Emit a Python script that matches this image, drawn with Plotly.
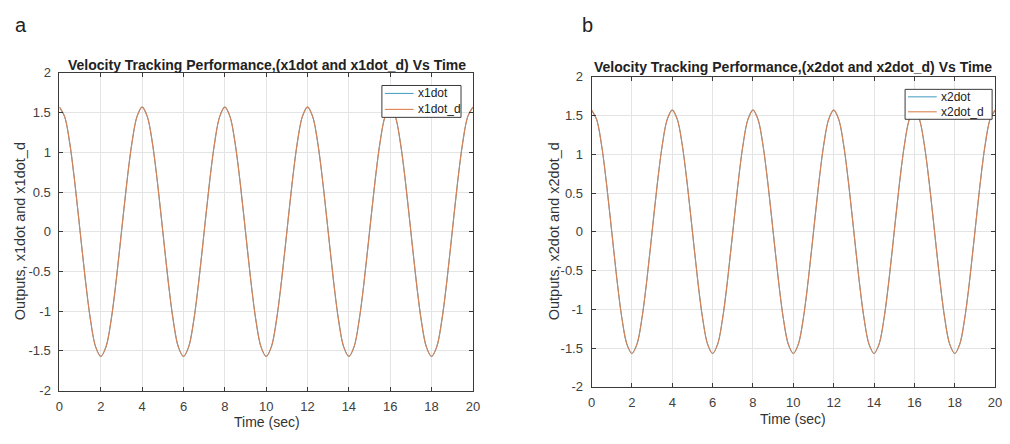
import plotly.graph_objects as go

# ---- data ----
time_sec = [i * 0.25 for i in range(81)]
x1dot = [1.57, 1.45, 1.11, 0.60, 0.00, -0.60, -1.11, -1.45, -1.57, -1.45, -1.11, -0.60, 0.00, 0.60, 1.11, 1.45,
         1.57, 1.45, 1.11, 0.60, 0.00, -0.60, -1.11, -1.45, -1.57, -1.45, -1.11, -0.60, 0.00, 0.60, 1.11, 1.45,
         1.57, 1.45, 1.11, 0.60, 0.00, -0.60, -1.11, -1.45, -1.57, -1.45, -1.11, -0.60, 0.00, 0.60, 1.11, 1.45,
         1.57, 1.45, 1.11, 0.60, 0.00, -0.60, -1.11, -1.45, -1.57, -1.45, -1.11, -0.60, 0.00, 0.60, 1.11, 1.45,
         1.57, 1.45, 1.11, 0.60, 0.00, -0.60, -1.11, -1.45, -1.57, -1.45, -1.11, -0.60, 0.00, 0.60, 1.11, 1.45,
         1.57]
x1dot_d = [1.57, 1.45, 1.11, 0.60, 0.00, -0.60, -1.11, -1.45, -1.57, -1.45, -1.11, -0.60, 0.00, 0.60, 1.11, 1.45,
           1.57, 1.45, 1.11, 0.60, 0.00, -0.60, -1.11, -1.45, -1.57, -1.45, -1.11, -0.60, 0.00, 0.60, 1.11, 1.45,
           1.57, 1.45, 1.11, 0.60, 0.00, -0.60, -1.11, -1.45, -1.57, -1.45, -1.11, -0.60, 0.00, 0.60, 1.11, 1.45,
           1.57, 1.45, 1.11, 0.60, 0.00, -0.60, -1.11, -1.45, -1.57, -1.45, -1.11, -0.60, 0.00, 0.60, 1.11, 1.45,
           1.57, 1.45, 1.11, 0.60, 0.00, -0.60, -1.11, -1.45, -1.57, -1.45, -1.11, -0.60, 0.00, 0.60, 1.11, 1.45,
           1.57]
x2dot = [1.57, 1.45, 1.11, 0.60, 0.00, -0.60, -1.11, -1.45, -1.57, -1.45, -1.11, -0.60, 0.00, 0.60, 1.11, 1.45,
         1.57, 1.45, 1.11, 0.60, 0.00, -0.60, -1.11, -1.45, -1.57, -1.45, -1.11, -0.60, 0.00, 0.60, 1.11, 1.45,
         1.57, 1.45, 1.11, 0.60, 0.00, -0.60, -1.11, -1.45, -1.57, -1.45, -1.11, -0.60, 0.00, 0.60, 1.11, 1.45,
         1.57, 1.45, 1.11, 0.60, 0.00, -0.60, -1.11, -1.45, -1.57, -1.45, -1.11, -0.60, 0.00, 0.60, 1.11, 1.45,
         1.57, 1.45, 1.11, 0.60, 0.00, -0.60, -1.11, -1.45, -1.57, -1.45, -1.11, -0.60, 0.00, 0.60, 1.11, 1.45,
         1.57]
x2dot_d = [1.57, 1.45, 1.11, 0.60, 0.00, -0.60, -1.11, -1.45, -1.57, -1.45, -1.11, -0.60, 0.00, 0.60, 1.11, 1.45,
           1.57, 1.45, 1.11, 0.60, 0.00, -0.60, -1.11, -1.45, -1.57, -1.45, -1.11, -0.60, 0.00, 0.60, 1.11, 1.45,
           1.57, 1.45, 1.11, 0.60, 0.00, -0.60, -1.11, -1.45, -1.57, -1.45, -1.11, -0.60, 0.00, 0.60, 1.11, 1.45,
           1.57, 1.45, 1.11, 0.60, 0.00, -0.60, -1.11, -1.45, -1.57, -1.45, -1.11, -0.60, 0.00, 0.60, 1.11, 1.45,
           1.57, 1.45, 1.11, 0.60, 0.00, -0.60, -1.11, -1.45, -1.57, -1.45, -1.11, -0.60, 0.00, 0.60, 1.11, 1.45,
           1.57]

x_ticks = [0, 2, 4, 6, 8, 10, 12, 14, 16, 18, 20]
y_ticks = [-2, -1.5, -1, -0.5, 0, 0.5, 1, 1.5, 2]
y_tick_text = ["-2", "-1.5", "-1", "-0.5", "0", "0.5", "1", "1.5", "2"]
legend_left = ["x1dot", "x1dot_d"]
legend_right = ["x2dot", "x2dot_d"]

# the page body keeps its default 8px margin, so the figure is 8px smaller
# and every window-pixel position below is shifted by that offset
OFF = 8
W, H = 1010 - OFF, 444 - OFF
BLUE = "#4fa3c9"
ORANGE = "#dd8050"
FONT = "Liberation Sans, Arial, sans-serif"

fig = go.Figure()
fig.add_trace(go.Scatter(x=time_sec, y=x1dot, name="x1dot", mode="lines", line=dict(color=BLUE, width=1.1, shape="spline"),
                         xaxis="x", yaxis="y"))
fig.add_trace(go.Scatter(x=time_sec, y=x1dot_d, name="x1dot_d", mode="lines", line=dict(color=ORANGE, width=1.1, shape="spline"),
                         xaxis="x", yaxis="y"))
fig.add_trace(go.Scatter(x=time_sec, y=x2dot, name="x2dot", mode="lines", line=dict(color=BLUE, width=1.1, shape="spline"),
                         xaxis="x2", yaxis="y2"))
fig.add_trace(go.Scatter(x=time_sec, y=x2dot_d, name="x2dot_d", mode="lines", line=dict(color=ORANGE, width=1.1, shape="spline"),
                         xaxis="x2", yaxis="y2"))

def px_x(p):
    return (p - OFF) / W

def px_y(p):
    return 1 - (p - OFF) / H

axis_common = dict(showline=True, linecolor="#3a3a3a", linewidth=1, mirror="ticks", ticks="inside",
                   ticklen=4, tickcolor="#3a3a3a", showgrid=True, gridcolor="#e4e4e4", gridwidth=1,
                   zeroline=False, tickfont=dict(family=FONT, size=13, color="#404040"))

fig.update_layout(
    width=W, height=H,
    margin=dict(l=0, r=0, t=0, b=0),
    paper_bgcolor="white", plot_bgcolor="white",
    showlegend=False,
    xaxis=dict(domain=[px_x(56), px_x(474)], range=[0, 20], tickvals=x_ticks, anchor="y",
               ticklabelstandoff=4, **axis_common),
    yaxis=dict(domain=[px_y(397), px_y(68)], range=[-2, 2], tickvals=y_ticks, ticktext=y_tick_text, anchor="x",
               ticklabelstandoff=5, **axis_common),
    xaxis2=dict(domain=[px_x(594), px_x(1002)], range=[0, 20], tickvals=x_ticks, anchor="y2",
                ticklabelstandoff=4, **axis_common),
    yaxis2=dict(domain=[px_y(393), px_y(72)], range=[-2, 2], tickvals=y_ticks, ticktext=y_tick_text, anchor="x2",
                ticklabelstandoff=5, **axis_common),
)

ann = [
    dict(text="a", x=px_x(17), y=px_y(18), font=dict(size=20, color="#222")),
    dict(text="b", x=px_x(590), y=px_y(18), font=dict(size=20, color="#222")),
    dict(text="<b>Velocity Tracking Performance,(x1dot and x1dot_d) Vs Time</b>", x=px_x(266), y=px_y(60),
         font=dict(size=14, color="#222")),
    dict(text="<b>Velocity Tracking Performance,(x2dot and x2dot_d) Vs Time</b>", x=px_x(798), y=px_y(62),
         font=dict(size=14, color="#222")),
    dict(text="Time (sec)", x=px_x(266), y=px_y(429), font=dict(size=14, color="#333")),
    dict(text="Time (sec)", x=px_x(798), y=px_y(426), font=dict(size=14, color="#333")),
    dict(text="Outputs, x1dot and x1dot_d", x=px_x(16), y=px_y(232), textangle=-90, font=dict(size=14.5, color="#333")),
    dict(text="Outputs, x2dot and x2dot_d", x=px_x(556), y=px_y(232), textangle=-90, font=dict(size=14.5, color="#333")),
]

shapes = []
# hand-drawn legends (box, line samples, labels)
for (bx0, bx1, by0, by1, names) in [(382, 462, 81, 114, legend_left), (911, 999, 85, 116, legend_right)]:
    shapes.append(dict(type="rect", xref="paper", yref="paper", x0=px_x(bx0), x1=px_x(bx1),
                       y0=px_y(by1), y1=px_y(by0), fillcolor="white", line=dict(color="#3a3a3a", width=1)))
    row_h = (by1 - by0) / 2
    for i, (name, col) in enumerate(zip(names, [BLUE, ORANGE])):
        yc = by0 + row_h * (i + 0.5)
        shapes.append(dict(type="line", xref="paper", yref="paper", x0=px_x(bx0 + 3), x1=px_x(bx0 + 32),
                           y0=px_y(yc), y1=px_y(yc), line=dict(color=col, width=1.1)))
        ann.append(dict(text=name, x=px_x(bx0 + 34), y=px_y(yc), xanchor="left",
                        font=dict(size=12, color="#222")))

for a in ann:
    a.update(xref="paper", yref="paper", showarrow=False, yanchor="middle")
    a.setdefault("xanchor", "center")
    a["font"]["family"] = FONT
fig.update_layout(annotations=ann, shapes=shapes)

fig.write_html("out.html", config={"displayModeBar": False})
